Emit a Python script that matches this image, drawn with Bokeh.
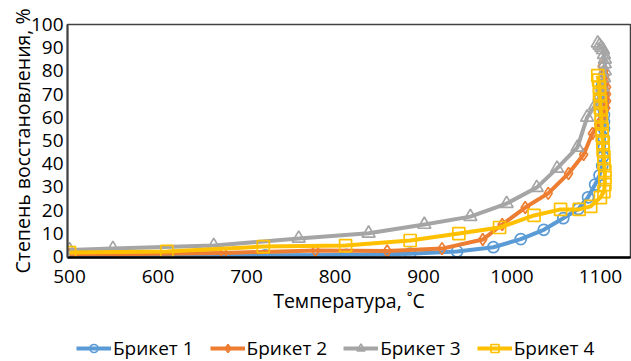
from bokeh.plotting import figure
from bokeh.layouts import column
from bokeh.models import Range1d, FixedTicker, Legend, LegendItem
from bokeh.embed import file_html
from bokeh.resources import INLINE

# Data (temperature, °C ; reduction degree, %)
t1 = [500, 614, 721, 813, 885, 938, 979, 1010, 1036, 1058, 1075, 1086, 1094, 1099, 1102, 1103, 1104, 1104, 1104, 1104, 1104, 1103, 1103, 1103, 1102, 1102]
v1 = [0.2, 0.2, 0.5, 0.7, 1.2, 2.2, 4.0, 7.5, 11.5, 16.5, 20.5, 25.5, 31, 35, 39, 43, 47, 51, 55, 58, 61, 64, 67, 70, 72, 74]

t2 = [500, 552, 674, 778, 859, 921, 967, 989, 1015, 1041, 1064, 1081, 1091, 1098, 1103, 1106, 1107, 1107, 1107, 1106, 1105, 1104, 1102]
v2 = [1.0, 1.0, 1.5, 2.6, 2.4, 3.4, 7.3, 13.8, 21.1, 27.2, 35.8, 44, 53, 57, 61, 64, 67, 70, 73, 76, 78, 80, 82]

t3 = [500, 549, 663, 759, 838, 901, 953, 994, 1028, 1051, 1074, 1085, 1094, 1099, 1102, 1104, 1105, 1105, 1105, 1104, 1103, 1101, 1099, 1097]
v3 = [2.8, 3.4, 4.7, 7.8, 10, 13.8, 17.2, 22.8, 29.7, 38, 47, 60, 65, 69, 73, 77, 80, 83, 85, 87, 89, 90, 91, 92]

t4 = [500, 610, 719, 812, 885, 940, 986, 1025, 1055, 1076, 1089, 1100, 1104, 1105, 1105, 1105, 1104, 1104, 1103, 1103, 1102, 1102, 1101, 1101, 1100, 1100, 1099, 1099, 1098, 1097]
v4 = [1.7, 2.2, 4.3, 4.7, 6.9, 9.9, 12.5, 17.7, 20.3, 20.3, 21.6, 25.4, 28, 31, 34, 37, 40, 43, 46, 49, 52, 55, 58, 61, 64, 67, 70, 73, 76, 78]

names = ["Брикет 1", "Брикет 2", "Брикет 3", "Брикет 4"]
colors = ["#5B9BD5", "#ED7D31", "#A5A5A5", "#FFC000"]
markers = ["circle", "diamond", "triangle", "square"]
msizes = [11, 12, 13, 12]
x_ticks = [500, 600, 700, 800, 900, 1000, 1100]
y_ticks = [0, 10, 20, 30, 40, 50, 60, 70, 80, 90, 100]

FONT = "Open Sans"
W = 631
H_MAIN = 323
H_LEG = 38

p = figure(width=W, height=H_MAIN, output_backend="svg", toolbar_location=None,
           x_range=Range1d(497.7, 1134), y_range=Range1d(-0.43, 100),
           min_border_left=67, min_border_right=1, min_border_top=24,
           min_border_bottom=H_MAIN - 24 - 233)
p.xgrid.visible = False
p.ygrid.visible = False
p.outline_line_color = "#404040"
p.outline_line_width = 1.5
p.background_fill_color = "white"
p.border_fill_color = "white"

for ax in (p.xaxis[0], p.yaxis[0]):
    ax.major_tick_line_color = None
    ax.minor_tick_line_color = None
    ax.major_tick_out = 0
    ax.major_tick_in = 0
    ax.minor_tick_out = 0
    ax.minor_tick_in = 0
    ax.major_label_text_font = FONT
    ax.major_label_text_font_size = "19px"
    ax.major_label_text_color = "black"
    ax.axis_label_text_font = FONT
    ax.axis_label_text_font_size = "19.5px"
    ax.axis_label_text_font_style = "normal"
    ax.axis_label_text_color = "black"

p.xaxis[0].ticker = FixedTicker(ticks=x_ticks)
p.yaxis[0].ticker = FixedTicker(ticks=y_ticks)
p.xaxis[0].axis_label = "Температура, ˚C"
p.yaxis[0].axis_label = "Степень восстановления, %"
p.xaxis[0].axis_line_color = "black"
p.xaxis[0].axis_line_width = 2.5
p.yaxis[0].axis_line_color = "#404040"
p.yaxis[0].axis_line_width = 2
p.xaxis[0].major_label_standoff = 12
p.xaxis[0].axis_label_standoff = 1
p.yaxis[0].major_label_standoff = 4
p.yaxis[0].axis_label_standoff = -8

series = list(zip([t1, t2, t3, t4], [v1, v2, v3, v4], names, colors, markers, msizes))
for t, v, n, c, m, s in series:
    p.line(t, v, line_color=c, line_width=4, line_join="round")
    p.scatter(t, v, marker=m, size=s, line_color=c, line_width=1.7, fill_alpha=0)

# Legend strip below the chart (same series, outside this strip's visible range)
q = figure(width=W, height=H_LEG, output_backend="svg", toolbar_location=None,
           x_range=Range1d(0, 1), y_range=Range1d(0, 1),
           min_border_left=0, min_border_right=0, min_border_top=0, min_border_bottom=0)
q.axis.visible = False
q.xgrid.visible = False
q.ygrid.visible = False
q.outline_line_color = None
q.border_fill_color = "white"
q.background_fill_color = "white"

items = []
for t, v, n, c, m, s in series:
    lr = q.line(t, v, line_color=c, line_width=4)
    sr = q.scatter(t, v, marker=m, size=s - 2, line_color=c, line_width=1.7, fill_alpha=0)
    items.append(LegendItem(label=n, renderers=[lr, sr]))

legend = Legend(items=items, orientation="horizontal", location=(9, 0),
                label_text_font=FONT, label_text_font_size="19px", label_text_color="black",
                glyph_width=35, glyph_height=20, label_height=20, label_standoff=2,
                spacing=16, padding=0, margin=0, border_line_color=None,
                background_fill_alpha=0)
q.add_layout(legend, "center")

layout = column(p, q, spacing=0)
open("out.html", "w").write(file_html(layout, INLINE))
